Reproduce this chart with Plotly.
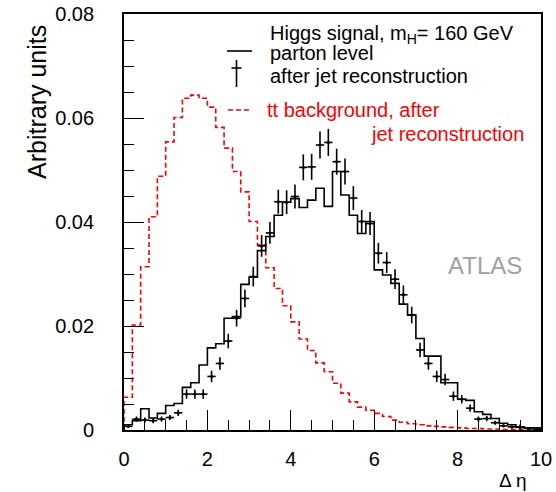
import numpy as np
import plotly.graph_objects as go

# ---------------- data (50 bins of width 0.2 from 0 to 10) ----------------
bin_lo = 0.0
bin_hi = 10.0
n_bins = 50

ttbar_bkg = [0.0063, 0.0202, 0.0314, 0.0410, 0.0488, 0.0554, 0.0601, 0.0638, 0.0644, 0.0638,
             0.0621, 0.0582, 0.0542, 0.0497, 0.0458, 0.0401, 0.0356, 0.0312, 0.0272, 0.0239,
             0.0208, 0.0175, 0.0153, 0.0129, 0.0112, 0.0090, 0.0071, 0.0054, 0.0044, 0.0038,
             0.0032, 0.0026, 0.0019, 0.0015, 0.0012, 0.0010, 0.0008, 0.0007, 0.0006, 0.0005,
             0.0004, 0.0003, 0.0003, 0.0002, 0.0002, 0.0001, 0.0001, 0.0001, 0.0001, 0.0001]

parton_level = [0.0010, 0.0018, 0.0041, 0.0023, 0.0032, 0.0047, 0.0051, 0.0082, 0.0091, 0.0125,
                0.0158, 0.0166, 0.0215, 0.0218, 0.0280, 0.0294, 0.0345, 0.0372, 0.0413, 0.0438,
                0.0445, 0.0428, 0.0442, 0.0465, 0.0430, 0.0497, 0.0452, 0.0413, 0.0378, 0.0401,
                0.0308, 0.0298, 0.0282, 0.0242, 0.0221, 0.0176, 0.0142, 0.0142, 0.0091, 0.0091,
                0.0059, 0.0057, 0.0035, 0.0030, 0.0022, 0.0013, 0.0010, 0.0006, 0.0004, 0.0004]

jet_reco = [0.0007, 0.0021, 0.0019, 0.0018, 0.0021, 0.0024, 0.0033, 0.0069, 0.0069, 0.0069,
            0.0103, 0.0128, 0.0171, 0.0215, 0.0253, 0.0295, 0.0354, 0.0379, 0.0439, 0.0438,
            0.0449, 0.0505, 0.0506, 0.0548, 0.0553, 0.0516, 0.0497, 0.0446, 0.0401, 0.0397,
            0.0340, 0.0322, 0.0290, 0.0260, 0.0221, 0.0154, 0.0128, 0.0103, 0.0097, 0.0065,
            0.0059, 0.0042, 0.0021, 0.0022, 0.0014, 0.0008, 0.0006, 0.0005, 0.0003, 0.0001]

jet_reco_err = [0.0003, 0.0005, 0.0005, 0.0005, 0.0005, 0.0005, 0.0006, 0.0009, 0.0009, 0.0009,
                0.0011, 0.0012, 0.0014, 0.0016, 0.0017, 0.0019, 0.0021, 0.0021, 0.0023, 0.0023,
                0.0023, 0.0025, 0.0025, 0.0026, 0.0026, 0.0025, 0.0025, 0.0023, 0.0022, 0.0022,
                0.0020, 0.0020, 0.0019, 0.0018, 0.0016, 0.0014, 0.0012, 0.0011, 0.0011, 0.0009,
                0.0008, 0.0007, 0.0005, 0.0005, 0.0004, 0.0003, 0.0003, 0.0006, 0.0002, 0.0001]

y_tick_vals = [0, 0.02, 0.04, 0.06, 0.08]
y_tick_text = ["0", "0.02", "0.04", "0.06", "0.08"]
x_tick_vals = [0, 2, 4, 6, 8, 10]
x_tick_text = ["0", "2", "4", "6", "8", "10"]

# ---------------- helpers ----------------
edges = np.linspace(bin_lo, bin_hi, n_bins + 1)
centers = 0.5 * (edges[:-1] + edges[1:])
half_w = 0.5 * (edges[1] - edges[0])


def step_xy(vals):
    xs = [edges[0]] + list(edges)
    ys = [0.0] + list(vals) + [vals[-1]]
    return xs, ys


FONT = "Liberation Sans, Arial, Helvetica, sans-serif"

fig = go.Figure()

bx, by = step_xy(ttbar_bkg)
fig.add_trace(go.Scatter(x=bx, y=by, mode="lines", line_shape="hv",
                         line=dict(color="#ff0000", width=1.6, dash="5px,3px"),
                         showlegend=False, hoverinfo="skip"))

px_, py_ = step_xy(parton_level)
fig.add_trace(go.Scatter(x=px_, y=py_, mode="lines", line_shape="hv",
                         line=dict(color="black", width=1.6),
                         showlegend=False, hoverinfo="skip"))

fig.add_trace(go.Scatter(x=centers, y=jet_reco, mode="markers",
                         marker=dict(color="black", size=3),
                         error_x=dict(type="constant", value=half_w, width=0, thickness=1.6, color="black"),
                         error_y=dict(type="data", array=jet_reco_err, width=0, thickness=1.6, color="black"),
                         showlegend=False, hoverinfo="skip"))

# ---------------- layout ----------------
L, R, T, B = 124, 15, 14, 62
W, H = 556, 492
pw, ph = W - L - R, H - T - B


def pxx(x):
    return (x - L) / pw


def pxy(y):
    return (H - B - y) / ph


fig.update_layout(
    width=W, height=H,
    margin=dict(l=L, r=R, t=T, b=B, pad=0, autoexpand=False),
    paper_bgcolor="white", plot_bgcolor="white",
    font=dict(family=FONT, size=20, color="black"),
    showlegend=False,
)

fig.update_xaxes(range=[bin_lo, bin_hi], tickvals=x_tick_vals, ticktext=x_tick_text,
                 ticks="inside", ticklen=20, tickwidth=1.2, tickcolor="black",
                 minor=dict(dtick=0.5, tick0=0, ticks="inside", ticklen=10, tickwidth=1.2, tickcolor="black"),
                 showline=True, linecolor="black", linewidth=1.8, mirror=True,
                 showgrid=False, zeroline=False, ticklabelstandoff=10, automargin=False,
                 tickfont=dict(size=20, family=FONT, color="black"))
fig.update_yaxes(range=[0, 0.08], tickvals=y_tick_vals, ticktext=y_tick_text,
                 ticks="inside", ticklen=20, tickwidth=1.2, tickcolor="black",
                 minor=dict(dtick=0.005, tick0=0, ticks="inside", ticklen=10, tickwidth=1.2, tickcolor="black"),
                 showline=True, linecolor="black", linewidth=1.8, mirror=True,
                 showgrid=False, zeroline=False, ticklabelstandoff=24, automargin=False,
                 tickfont=dict(size=20, family=FONT, color="black"))

ann = []
ann.append(dict(text="Arbitrary units", x=pxx(37), y=pxy(102), textangle=-90,
                font=dict(size=25, family=FONT, color="black")))
ann.append(dict(text="Δ η", x=pxx(529), y=pxy(481), xanchor="right",
                font=dict(size=19, family=FONT, color="black")))
ann.append(dict(text="Higgs signal, m<sub>H</sub>= 160 GeV", x=pxx(268), y=pxy(34), xanchor="left",
                font=dict(size=20, family=FONT, color="black")))
ann.append(dict(text="parton level", x=pxx(268), y=pxy(53), xanchor="left",
                font=dict(size=20, family=FONT, color="black")))
ann.append(dict(text="after jet reconstruction", x=pxx(268), y=pxy(76), xanchor="left",
                font=dict(size=20, family=FONT, color="black")))
ann.append(dict(text="tt background, after", x=pxx(265), y=pxy(110), xanchor="left",
                font=dict(size=20, family=FONT, color="#ff0000")))
ann.append(dict(text="jet reconstruction", x=pxx(369), y=pxy(134), xanchor="left",
                font=dict(size=20, family=FONT, color="#ff0000")))
ann.append(dict(text="ATLAS", x=pxx(485), y=pxy(265),
                font=dict(size=24, family=FONT, color="#a0a0a0")))
for a in ann:
    a.update(xref="paper", yref="paper", showarrow=False)
    a.setdefault("xanchor", "center")
    a.setdefault("yanchor", "middle")
fig.update_layout(annotations=ann)

shapes = [
    dict(type="line", x0=pxx(227), x1=pxx(252), y0=pxy(51), y1=pxy(51), line=dict(color="black", width=1.6)),
    dict(type="line", x0=pxx(236.5), x1=pxx(236.5), y0=pxy(60), y1=pxy(87), line=dict(color="black", width=1.6)),
    dict(type="line", x0=pxx(231.5), x1=pxx(241.5), y0=pxy(68), y1=pxy(68), line=dict(color="black", width=1.6)),
    dict(type="line", x0=pxx(228), x1=pxx(252), y0=pxy(110), y1=pxy(110),
         line=dict(color="#ff0000", width=1.6, dash="5px,3px")),
]
for s in shapes:
    s.update(xref="paper", yref="paper")
fig.update_layout(shapes=shapes)

fig.write_html("out.html", config={"displayModeBar": False},
               post_script="document.body.style.margin='0';document.body.style.overflow='hidden';")
